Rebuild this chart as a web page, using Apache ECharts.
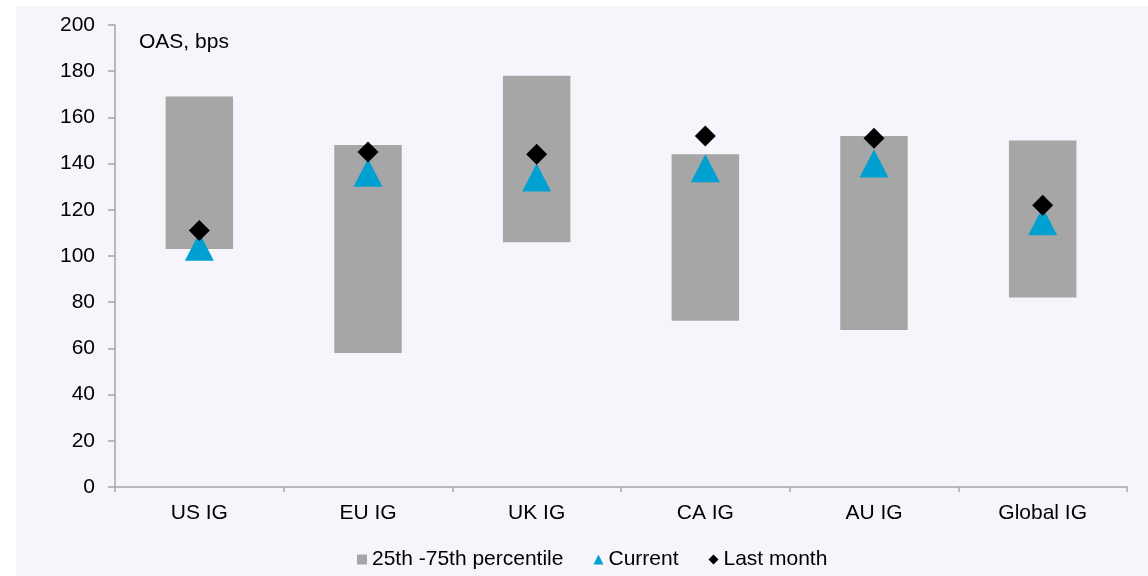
<!DOCTYPE html>
<html>
<head>
<meta charset="utf-8">
<style>
  html, body { margin: 0; padding: 0; background: #ffffff; }
  #chart { width: 1148px; height: 576px; }
</style>
<script src="https://cdn.jsdelivr.net/npm/echarts@6/dist/echarts.min.js"></script>
</head>
<body>
<div id="chart"></div>
<script>
// Investment-grade credit spreads by market (OAS, bps)
const categories = ['US IG', 'EU IG', 'UK IG', 'CA IG', 'AU IG', 'Global IG'];
const pctLow  = [103, 58, 106, 72, 68, 82];     // 25th percentile
const pctHigh = [169, 148, 178, 144, 152, 150]; // 75th percentile
const current = [104, 136, 134, 138, 140, 115];
const lastMonth = [111, 145, 144, 152, 151, 122];
const yTicks = { min: 0, max: 200, interval: 20 };

const FONT = '"Liberation Sans", Arial, sans-serif';
const FONT_SIZE = 21;
const AXIS_GREY = '#a6a6a6';

const chart = echarts.init(document.getElementById('chart'), null, { renderer: 'canvas' });

chart.setOption({
  animation: false,
  textStyle: { fontFamily: FONT },
  graphic: [
    {
      type: 'rect', z: -10, silent: true,
      shape: { x: 16, y: 6, width: 1148 - 16, height: 576 - 6 },
      style: { fill: '#f6f5fb' }
    },
    {
      type: 'text', left: 139, top: 32, silent: true,
      style: { text: 'OAS, bps', fontSize: FONT_SIZE, fontFamily: FONT, fill: '#000' }
    }
  ],
  grid: { left: 115, right: 21, top: 25, bottom: 89, containLabel: false },
  legend: {
    bottom: 1,
    left: 352,
    itemWidth: 10,
    itemHeight: 10,
    itemGap: 30,
    textStyle: { fontSize: FONT_SIZE, color: '#000', fontFamily: FONT },
    data: [
      { name: '25th -75th percentile', icon: 'rect' },
      { name: 'Current', icon: 'triangle' },
      { name: 'Last month', icon: 'diamond' }
    ]
  },
  xAxis: {
    type: 'category',
    data: categories,
    axisLine: { lineStyle: { color: AXIS_GREY, width: 1.5 } },
    axisTick: { show: true, length: 5, lineStyle: { color: AXIS_GREY, width: 1.5 } },
    axisLabel: { fontSize: FONT_SIZE, color: '#000', margin: 16, fontFamily: FONT }
  },
  yAxis: {
    type: 'value',
    min: yTicks.min, max: yTicks.max, interval: yTicks.interval,
    splitLine: { show: false },
    axisLine: { show: true, lineStyle: { color: AXIS_GREY, width: 1.5 } },
    axisTick: { show: true, length: 7, lineStyle: { color: AXIS_GREY, width: 1.5 } },
    axisLabel: { fontSize: FONT_SIZE, color: '#000', margin: 20, fontFamily: FONT }
  },
  series: [
    {
      // invisible base lifting the range bar to the 25th percentile
      name: 'base',
      type: 'bar',
      stack: 'range',
      barWidth: '40%',
      silent: true,
      itemStyle: { color: 'rgba(0,0,0,0)' },
      data: pctLow
    },
    {
      name: '25th -75th percentile',
      type: 'bar',
      stack: 'range',
      barWidth: '40%',
      itemStyle: { color: '#a6a6a6' },
      data: pctHigh.map((h, i) => h - pctLow[i])
    },
    {
      name: 'Current',
      type: 'scatter',
      symbol: 'triangle',
      symbolSize: [29, 28],
      itemStyle: { color: '#00a0d1', opacity: 1 },
      data: current
    },
    {
      name: 'Last month',
      type: 'scatter',
      symbol: 'diamond',
      symbolSize: 21,
      itemStyle: { color: '#000000', opacity: 1 },
      data: lastMonth
    }
  ]
});
</script>
</body>
</html>
